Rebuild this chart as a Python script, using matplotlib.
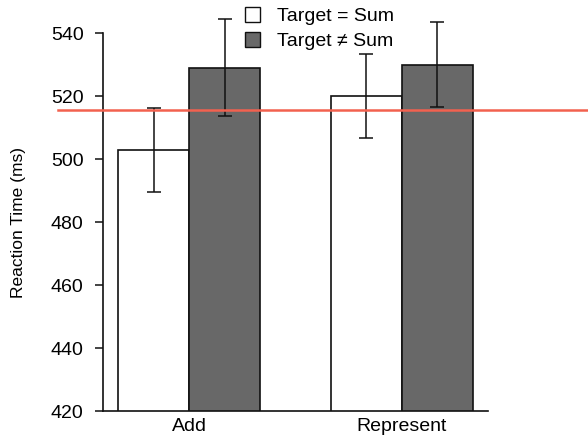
import matplotlib
matplotlib.use('Agg')
import matplotlib.pyplot as plt
import matplotlib.transforms as mtransforms
from matplotlib.patches import Patch
import numpy as np

plt.rcParams['font.family'] = ['Liberation Sans', 'DejaVu Sans']

# data
tasks = ['Add', 'Represent']
series = ['Target = Sum', 'Target \u2260 Sum']
means_equal = [503, 520]
means_noteq = [529, 530]
err_lo_equal = [489.5, 506.8]
err_hi_equal = [516.2, 533.2]
err_lo_noteq = [513.5, 516.4]
err_hi_noteq = [544.3, 543.6]
ref_line = 515.5

fig = plt.figure(figsize=(5.88, 4.4), dpi=100)
ax = fig.add_axes([0.1752, 0.0659, 0.6547, 0.8591])

x = np.arange(len(tasks))
w = 1 / 3

ax.bar(x - w / 2, means_equal, w, bottom=0, color='white', edgecolor='#111111',
       linewidth=1.2, zorder=2)
ax.bar(x + w / 2, means_noteq, w, color='#686868', edgecolor='#111111',
       linewidth=1.2, zorder=2)

for xs, m, lo, hi in [(x - w / 2, means_equal, err_lo_equal, err_hi_equal),
                      (x + w / 2, means_noteq, err_lo_noteq, err_hi_noteq)]:
    m = np.array(m)
    yerr = [m - np.array(lo), np.array(hi) - m]
    ax.errorbar(xs, m, yerr=yerr, fmt='none', ecolor='#111111', elinewidth=1.1,
                capsize=4.7, capthick=1.1, zorder=3, clip_on=False)

ax.set_xlim(-0.404, 1.404)
ax.set_ylim(420, 540)
ax.set_yticks(np.arange(420, 541, 20))
ax.set_xticks(x)
ax.set_xticklabels(tasks)
ax.tick_params(axis='x', length=0, pad=5, labelsize=14)
ax.tick_params(axis='y', length=6, width=1.1, pad=8, labelsize=14, color='#111111')
for s in ['top', 'right']:
    ax.spines[s].set_visible(False)
for s in ['left', 'bottom']:
    ax.spines[s].set_linewidth(1.2)
    ax.spines[s].set_color('#111111')
ax.set_ylabel('Reaction Time (ms)', fontsize=12.5)
ax.yaxis.set_label_coords(-0.2, 0.5)

# red reference line, starts left of the axis and runs to the figure edge
tr = mtransforms.blended_transform_factory(fig.transFigure, ax.transData)
ax.plot([58 / 588, 1.0], [ref_line, ref_line], transform=tr, color='#f2614f',
        linewidth=1.8, clip_on=False, zorder=4)

handles = [Patch(facecolor='white', edgecolor='#111111', linewidth=1),
           Patch(facecolor='#686868', edgecolor='#111111', linewidth=1)]
fig.legend(handles, series, loc='upper left', bbox_to_anchor=(0.39, 1.02),
           frameon=False, fontsize=14, handlelength=0.8, handleheight=0.8,
           handletextpad=0.85, labelspacing=0.35, borderpad=0.3)

fig.savefig('out.png', dpi=100)
